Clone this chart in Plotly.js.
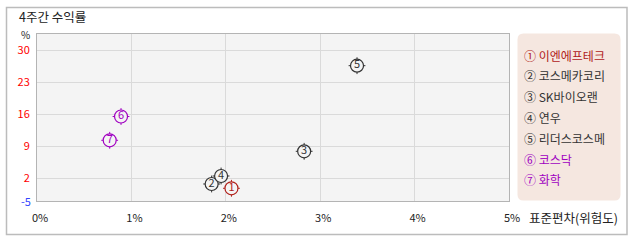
<!DOCTYPE html>
<html>
<head>
<meta charset="utf-8">
<script src="https://cdn.plot.ly/plotly-3.0.1.min.js"></script>
<style>html,body{margin:0;padding:0;background:#fff;}#chart{width:638px;height:242px;}</style>
</head>
<body>
<div id="chart"></div>
<script>
// ---- data ----
const names = ['이엔에프테크', '코스메카코리', 'SK바이오랜', '연우', '리더스코스메', '코스닥', '화학'];
const marks = ['①', '②', '③', '④', '⑤', '⑥', '⑦'];
const numbers = ['1', '2', '3', '4', '5', '6', '7'];
const stdevPct = [2.06, 1.85, 2.83, 1.95, 3.39, 0.89, 0.77];   // x: 표준편차 (%)
const return4w = [-0.25, 0.69, 7.84, 2.44, 26.57, 15.45, 10.25]; // y: 4주간 수익률 (%)
const xTickVals = [0, 1, 2, 3, 4, 5];
const xTickText = ['0%', '1%', '2%', '3%', '4%', '5%'];
const yTickVals = [2, 9, 16, 23, 30];
const yMinLabel = '-5';

// ---- styles ----
const RED = '#b0201a', DARK = '#333333', PURPLE = '#a000c0';
const pointColors = [RED, DARK, DARK, DARK, DARK, PURPLE, PURPLE];
const FONT = '"Noto Sans CJK KR", "DejaVu Sans", sans-serif';

// geometry of plot area (px) for paper conversions
const W = 638, H = 242, L = 37, R = 129, T = 34, B = 41;
const pw = W - L - R, ph = H - T - B;
const px = x => (x - L) / pw;
const py = y => (H - B - y) / ph;

const traces = [
  {
    type: 'scatter', mode: 'markers', x: stdevPct, y: return4w,
    marker: { symbol: 'cross-thin-open', size: 12, color: pointColors, line: { color: pointColors, width: 1 } },
    hoverinfo: 'skip', showlegend: false, cliponaxis: false
  },
  {
    type: 'scatter', mode: 'markers+text', x: stdevPct, y: return4w,
    text: numbers, textposition: 'middle center',
    textfont: { family: FONT, size: 11, color: pointColors },
    marker: { symbol: 'circle', size: 13, color: '#f4f4f4', line: { color: pointColors, width: 1.2 } },
    hoverinfo: 'skip', showlegend: false, cliponaxis: false
  }
];

// legend box (rounded rectangle)
const lx0 = px(517.5), lx1 = px(620.5), ly0 = py(200.5), ly1 = py(33.5);
const rx = 6 / pw, ry = 6 / ph;
const legendPath = `M ${lx0 + rx} ${ly1} L ${lx1 - rx} ${ly1} Q ${lx1} ${ly1} ${lx1} ${ly1 - ry} ` +
  `L ${lx1} ${ly0 + ry} Q ${lx1} ${ly0} ${lx1 - rx} ${ly0} L ${lx0 + rx} ${ly0} Q ${lx0} ${ly0} ${lx0} ${ly0 + ry} ` +
  `L ${lx0} ${ly1 - ry} Q ${lx0} ${ly1} ${lx0 + rx} ${ly1} Z`;

const shapes = [
  { type: 'rect', xref: 'paper', yref: 'paper', x0: px(6.5), x1: px(627), y0: py(234.5), y1: py(7.5),
    line: { color: '#bcbcbc', width: 1.5 }, layer: 'below' },
  { type: 'path', xref: 'paper', yref: 'paper', path: legendPath, fillcolor: '#f5e7e0', line: { width: 0 }, layer: 'below' }
];

const annotations = [
  { xref: 'paper', yref: 'paper', x: px(17), y: py(17), xanchor: 'left', yanchor: 'middle', showarrow: false,
    text: '4주간 수익률', font: { family: FONT, size: 12.5, color: '#222' } },
  { xref: 'paper', yref: 'paper', x: px(25.5), y: py(34), xanchor: 'center', yanchor: 'middle', showarrow: false,
    text: '%', font: { family: FONT, size: 10, color: '#222' } },
  { xref: 'paper', yref: 'paper', x: px(32.5), y: 0, xanchor: 'right', yanchor: 'middle', showarrow: false,
    text: yMinLabel, font: { family: FONT, size: 11, color: '#3344ff' } },
  { xref: 'paper', yref: 'paper', x: px(527), y: py(217), xanchor: 'left', yanchor: 'middle', showarrow: false,
    text: '표준편차(위험도)', font: { family: FONT, size: 12.5, color: '#222' } }
];
names.forEach((n, i) => {
  annotations.push({
    xref: 'paper', yref: 'paper', x: px(521.5), y: py(55 + i * 20.8), xanchor: 'left', yanchor: 'middle',
    showarrow: false, text: marks[i] + ' ' + n, font: { family: FONT, size: 12, color: pointColors[i] }
  });
});

const layout = {
  width: W, height: H,
  margin: { l: L, r: R, t: T, b: B, pad: 0 },
  paper_bgcolor: '#ffffff', plot_bgcolor: '#f4f4f4',
  font: { family: FONT, size: 11, color: '#222' },
  showlegend: false,
  xaxis: {
    range: [0, 5], tickvals: xTickVals, ticktext: xTickText,
    showgrid: true, gridcolor: '#dadada', gridwidth: 1, zeroline: false,
    showline: true, mirror: true, linecolor: '#b4b4b4', linewidth: 1,
    ticks: '', ticklabelstandoff: 7, ticklabelshift: 3,
    tickfont: { family: FONT, size: 11, color: '#222' }
  },
  yaxis: {
    range: [-3.03, 33.5], tickvals: yTickVals,
    showgrid: true, gridcolor: '#dadada', gridwidth: 1, zeroline: false,
    showline: true, mirror: true, linecolor: '#b4b4b4', linewidth: 1,
    ticks: '', ticklabelstandoff: 4,
    tickfont: { family: FONT, size: 11, color: '#ff0000' }
  },
  shapes: shapes,
  annotations: annotations
};

Plotly.newPlot('chart', traces, layout, { staticPlot: true, displayModeBar: false });
</script>
</body>
</html>
